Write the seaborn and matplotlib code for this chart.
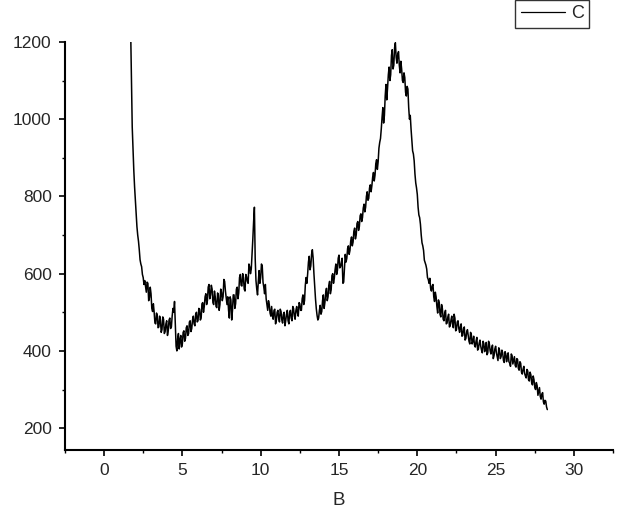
import numpy as np
import pandas as pd
import matplotlib
matplotlib.use("Agg")
import matplotlib.pyplot as plt
import seaborn as sns
from matplotlib.ticker import MultipleLocator

# diffraction scan: readings at 0.1 steps from 1.7 to 28.3
x_start = 1.7
x_end = 28.3
intensity = [
    1230, 980, 868, 790, 722, 684, 636, 618, 590, 582,
    552, 575, 538, 548, 502, 500, 470, 492, 462, 480,
    455, 482, 450, 478, 452, 485, 462, 510, 528, 412,
    432, 405, 440, 418, 452, 432, 465, 445, 478, 458,
    490, 465, 500, 478, 508, 485, 525, 515, 548, 530,
    572, 545, 560, 520, 540, 512, 545, 520, 552, 540,
    580, 538, 540, 485, 532, 505, 545, 522, 565, 550,
    598, 568, 590, 555, 592, 575, 618, 612, 690, 772,
    582, 545, 608, 590, 620, 565, 572, 520, 530, 498,
    515, 482, 508, 478, 505, 475, 502, 472, 500, 478,
    505, 470, 505, 478, 510, 482, 515, 490, 522, 505,
    545, 530, 590, 600, 645, 620, 662, 600, 535, 492,
    485, 518, 502, 545, 525, 562, 540, 580, 558, 600,
    588, 625, 608, 648, 618, 640, 578, 650, 640, 672,
    660, 695, 682, 718, 700, 735, 722, 755, 745, 780,
    772, 812, 795, 830, 828, 862, 855, 895, 890, 940,
    975, 1030, 1010, 1090, 1080, 1135, 1115, 1180, 1140, 1198,
    1145, 1175, 1120, 1130, 1095, 1108, 1060, 1078, 1000, 975,
    918, 892, 835, 805, 752, 728, 680, 660, 628, 612,
    585, 588, 555, 572, 528, 540, 498, 525, 488, 510,
    478, 505, 472, 495, 465, 490, 460, 485, 455, 478,
    448, 470, 440, 462, 432, 455, 425, 448, 418, 438,
    410, 435, 405, 428, 402, 425, 398, 422, 395, 418,
    392, 415, 388, 412, 385, 408, 380, 402, 375, 398,
    372, 395, 368, 392, 366, 385, 358, 378, 350, 368,
    340, 360, 335, 352, 325, 345, 318, 335, 305, 318,
    285, 305, 275, 292, 262, 270, 248,
]
# readings in between (1.75, 1.85, ... 28.25)
intensity_mid = [
    1100, 920, 825, 752, 700, 662, 625, 598, 572, 568,
    578, 530, 565, 510, 522, 472, 498, 460, 490, 448,
    488, 445, 470, 440, 480, 458, 490, 500, 470, 400,
    445, 428, 410, 448, 425, 460, 440, 475, 450, 480,
    470, 495, 475, 510, 480, 522, 500, 540, 520, 565,
    535, 570, 525, 555, 515, 550, 505, 560, 530, 585,
    555, 520, 505, 540, 480, 545, 510, 560, 535, 590,
    570, 600, 560, 598, 580, 625, 600, 650, 735, 640,
    560, 580, 575, 625, 578, 548, 535, 505, 520, 490,
    490, 505, 470, 500, 485, 508, 480, 495, 465, 495,
    478, 500, 485, 515, 490, 505, 498, 525, 505, 535,
    520, 570, 575, 630, 610, 650, 640, 568, 510, 480,
    505, 495, 530, 510, 550, 530, 570, 548, 595, 575,
    610, 598, 640, 615, 628, 575, 612, 630, 665, 650,
    685, 672, 710, 690, 730, 712, 750, 735, 770, 760,
    800, 790, 822, 812, 850, 840, 885, 870, 925, 950,
    1005, 990, 1060, 1050, 1115, 1100, 1165, 1130, 1185, 1160,
    1168, 1140, 1150, 1100, 1120, 1070, 1085, 1030, 1010, 948,
    910, 858, 822, 772, 745, 700, 672, 635, 622, 590,
    575, 562, 568, 540, 552, 515, 532, 495, 520, 482,
    498, 470, 488, 462, 480, 470, 495, 452, 475, 458,
    462, 438, 458, 428, 448, 440, 418, 442, 425, 415,
    425, 402, 420, 412, 395, 418, 408, 390, 425, 400,
    408, 380, 405, 395, 375, 402, 385, 395, 370, 392,
    385, 372, 360, 388, 375, 362, 380, 355, 372, 345,
    352, 342, 330, 348, 322, 338, 312, 325, 300, 310,
    295, 282, 288, 268, 272, 255,
]
x_ticks = [0, 5, 10, 15, 20, 25, 30]
y_ticks = [200, 400, 600, 800, 1000, 1200]

# merge the two sets of readings into one scan
scan = np.empty(len(intensity) + len(intensity_mid))
scan[0::2] = intensity
scan[1::2] = intensity_mid

df = pd.DataFrame({
    "B": np.linspace(x_start, x_end, len(scan)),
    "C": scan,
})

sns.set_style("ticks")
plt.rcParams["font.family"] = ["Liberation Sans", "DejaVu Sans"]

fig = plt.figure(figsize=(6.36, 5.18), dpi=100)
ax = fig.add_axes([0.102, 0.131, 0.862, 0.788])

sns.lineplot(data=df, x="B", y="C", color="black", linewidth=1.1,
             ax=ax, label="C", sort=False)

ax.set_xlim(-2.5, 32.5)
ax.set_ylim(143, 1200)
ax.set_xticks(x_ticks)
ax.set_yticks(y_ticks)
ax.xaxis.set_minor_locator(MultipleLocator(2.5))
ax.yaxis.set_minor_locator(MultipleLocator(100))
ax.tick_params(which="major", direction="out", length=4.5, width=1.2,
               labelsize=12.5, pad=5, color="black")
ax.tick_params(which="minor", direction="out", length=2.5, width=1.0,
               color="black")

for side in ["top", "right"]:
    ax.spines[side].set_visible(False)
for side in ["left", "bottom"]:
    ax.spines[side].set_linewidth(1.5)
    ax.spines[side].set_color("black")

ax.set_xlabel("B", fontsize=13.5, labelpad=10)
ax.set_ylabel("")

leg = ax.legend(loc="upper left", bbox_to_anchor=(0.81, 1.0), bbox_transform=fig.transFigure,
                frameon=True, fancybox=False, fontsize=13, handlelength=2.45,
                handletextpad=0.35, borderpad=0.3, borderaxespad=0)
leg.get_frame().set_edgecolor("black")
leg.get_frame().set_linewidth(1.0)
leg.get_lines()[0].set_linewidth(0.9)

plt.savefig("out.png", dpi=100, facecolor="white")
